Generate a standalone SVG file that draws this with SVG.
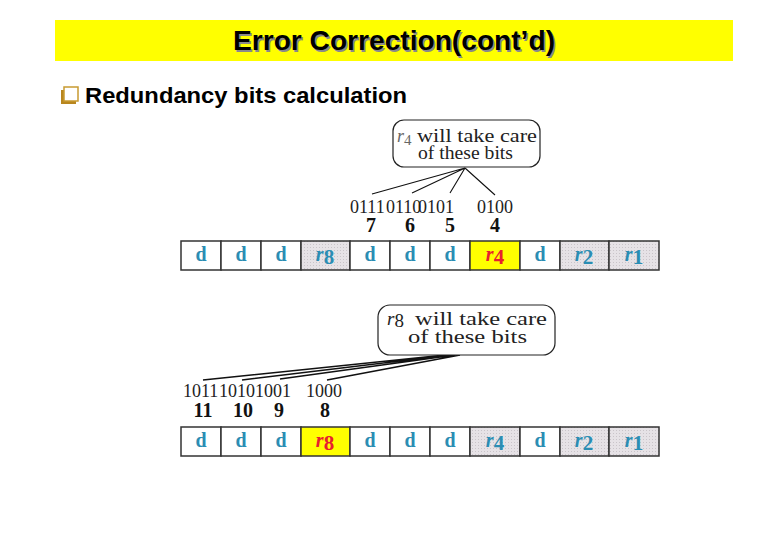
<svg xmlns="http://www.w3.org/2000/svg" width="780" height="540" viewBox="0 0 780 540">
<defs>
<pattern id="dots" width="3" height="3" patternUnits="userSpaceOnUse">
<rect width="3" height="3" fill="#e6e2e6"/>
<rect x="1" y="1" width="1" height="1" fill="#c9c4c9"/>
</pattern>
</defs>
<style>
.cell{stroke:#333;stroke-width:1.5;fill:#fff}
.gray{fill:url(#dots)}
.yel{fill:#ffff00}
.ct{font-family:"Liberation Serif",serif;font-weight:bold;font-size:20px;fill:#2b8db3;text-anchor:middle}
.sub{font-size:21px}
.red{fill:#e8202e}
.bub{fill:#fff;stroke:#222;stroke-width:1.2}
.bt{font-family:"Liberation Serif",serif;fill:#222}
.bits{font-family:"Liberation Serif",serif;font-size:18px;fill:#222}
.num{font-family:"Liberation Serif",serif;font-weight:bold;font-size:20px;fill:#111;text-anchor:middle}
.fan{stroke:#111;fill:none}
</style>
<rect x="55" y="20" width="678" height="41" fill="#ffff00"/>
<text x="395.5" y="51.5" font-family="Liberation Sans, Arial, sans-serif" font-weight="bold" font-size="27" fill="#8a8a8a" text-anchor="middle" textLength="322" lengthAdjust="spacingAndGlyphs">Error Correction(cont’d)</text>
<text x="394" y="50" font-family="Liberation Sans, Arial, sans-serif" font-weight="bold" font-size="27" fill="#000" text-anchor="middle" textLength="322" lengthAdjust="spacingAndGlyphs">Error Correction(cont’d)</text>
<rect x="61" y="90" width="15" height="14" fill="#b8861e"/>
<rect x="64" y="87" width="14" height="14" fill="#fff" stroke="#c89a30" stroke-width="1.5"/>
<text x="85" y="103" font-family="Liberation Sans, Arial, sans-serif" font-weight="bold" font-size="22" fill="#000" textLength="322" lengthAdjust="spacingAndGlyphs">Redundancy bits calculation</text>

<g id="connectors">
<path class="fan" stroke-width="1.1" d="M465,168 L372,194 M465,168 L412,193 M465,168 L450,193 M465,168 L495,195"/>
<path class="fan" stroke-width="1.6" d="M445,355 L203,380 M450,355 L242,380 M455,355 L280,379 M460,355 L327,380"/>
</g>

<g id="bubble1">
<rect class="bub" x="393" y="120" width="147" height="47" rx="11"/>
<text class="bt" x="397" y="142" font-size="18"><tspan font-style="italic" fill="#666">r</tspan><tspan dy="3" font-size="15" fill="#666">4</tspan></text>
<text class="bt" x="417" y="142" font-size="18" textLength="120" lengthAdjust="spacingAndGlyphs">will take care</text>
<text class="bt" x="418" y="159" font-size="18" textLength="95" lengthAdjust="spacingAndGlyphs">of these bits</text>
</g>

<g id="bits1">
<text class="bits" y="213"><tspan x="350">0111</tspan><tspan x="386">0110</tspan><tspan x="418">0101</tspan><tspan x="477">0100</tspan></text>
<text class="num" x="371" y="232">7</text>
<text class="num" x="410" y="232">6</text>
<text class="num" x="450" y="232">5</text>
<text class="num" x="495" y="232">4</text>
</g>

<g id="row1">
<rect class="cell" x="181" y="241" width="40" height="29"/>
<rect class="cell" x="221" y="241" width="40" height="29"/>
<rect class="cell" x="261" y="241" width="40" height="29"/>
<rect class="cell gray" x="301" y="241" width="49" height="29"/>
<rect class="cell" x="350" y="241" width="40" height="29"/>
<rect class="cell" x="390" y="241" width="40" height="29"/>
<rect class="cell" x="430" y="241" width="40" height="29"/>
<rect class="cell yel" x="470" y="241" width="50" height="29"/>
<rect class="cell" x="520" y="241" width="40" height="29"/>
<rect class="cell gray" x="560" y="241" width="49" height="29"/>
<rect class="cell gray" x="609" y="241" width="50" height="29"/>
<text class="ct" x="201" y="261">d</text>
<text class="ct" x="241" y="261">d</text>
<text class="ct" x="281" y="261">d</text>
<text class="ct" x="325" y="261"><tspan font-style="italic">r</tspan><tspan dy="3" class="sub">8</tspan></text>
<text class="ct" x="370" y="261">d</text>
<text class="ct" x="410" y="261">d</text>
<text class="ct" x="450" y="261">d</text>
<text class="ct red" x="495" y="261"><tspan font-style="italic">r</tspan><tspan dy="3" class="sub">4</tspan></text>
<text class="ct" x="540" y="261">d</text>
<text class="ct" x="584" y="261"><tspan font-style="italic">r</tspan><tspan dy="3" class="sub">2</tspan></text>
<text class="ct" x="634" y="261"><tspan font-style="italic">r</tspan><tspan dy="3" class="sub">1</tspan></text>
</g>

<g id="bubble2">
<rect class="bub" x="378" y="305" width="177" height="50" rx="12"/>
<text class="bt" x="387" y="325" font-size="19"><tspan font-style="italic">r</tspan><tspan dy="2">8</tspan></text>
<text class="bt" x="415" y="325" font-size="19" textLength="132" lengthAdjust="spacingAndGlyphs">will take care</text>
<text class="bt" x="408" y="343" font-size="19" textLength="119" lengthAdjust="spacingAndGlyphs">of these bits</text>
</g>

<g id="bits2">
<text class="bits" y="397"><tspan x="183">1011</tspan><tspan x="219">1010</tspan><tspan x="255">1001</tspan><tspan x="306">1000</tspan></text>
<text class="num" x="203" y="417">11</text>
<text class="num" x="243" y="417">10</text>
<text class="num" x="279" y="417">9</text>
<text class="num" x="325" y="417">8</text>
</g>

<g id="row2">
<rect class="cell" x="181" y="427" width="40" height="29"/>
<rect class="cell" x="221" y="427" width="40" height="29"/>
<rect class="cell" x="261" y="427" width="40" height="29"/>
<rect class="cell yel" x="301" y="427" width="49" height="29"/>
<rect class="cell" x="350" y="427" width="40" height="29"/>
<rect class="cell" x="390" y="427" width="40" height="29"/>
<rect class="cell" x="430" y="427" width="40" height="29"/>
<rect class="cell gray" x="470" y="427" width="50" height="29"/>
<rect class="cell" x="520" y="427" width="40" height="29"/>
<rect class="cell gray" x="560" y="427" width="49" height="29"/>
<rect class="cell gray" x="609" y="427" width="50" height="29"/>
<text class="ct" x="201" y="447">d</text>
<text class="ct" x="241" y="447">d</text>
<text class="ct" x="281" y="447">d</text>
<text class="ct red" x="325" y="447"><tspan font-style="italic">r</tspan><tspan dy="3" class="sub">8</tspan></text>
<text class="ct" x="370" y="447">d</text>
<text class="ct" x="410" y="447">d</text>
<text class="ct" x="450" y="447">d</text>
<text class="ct" x="495" y="447"><tspan font-style="italic">r</tspan><tspan dy="3" class="sub">4</tspan></text>
<text class="ct" x="540" y="447">d</text>
<text class="ct" x="584" y="447"><tspan font-style="italic">r</tspan><tspan dy="3" class="sub">2</tspan></text>
<text class="ct" x="634" y="447"><tspan font-style="italic">r</tspan><tspan dy="3" class="sub">1</tspan></text>
</g>
</svg>
